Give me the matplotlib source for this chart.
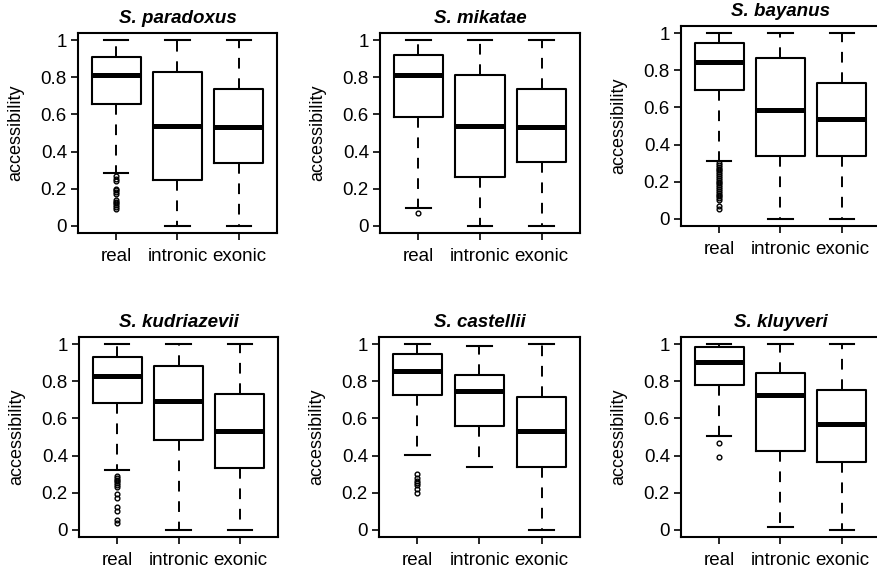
import matplotlib
matplotlib.use('Agg')
import matplotlib.pyplot as plt

plt.rcParams['font.family'] = ['Liberation Sans', 'DejaVu Sans']

groups = ['real', 'intronic', 'exonic']
species = ['S. paradoxus', 'S. mikatae', 'S. bayanus',
           'S. kudriazevii', 'S. castellii', 'S. kluyveri']

# statistics per species (rows) and group (columns: real, intronic, exonic)
whislo = [[0.285, 0.000, 0.000],
          [0.095, 0.000, 0.000],
          [0.312, 0.000, 0.000],
          [0.324, 0.000, 0.000],
          [0.401, 0.339, 0.000],
          [0.505, 0.014, 0.000]]
q1 = [[0.656, 0.247, 0.337],
      [0.586, 0.265, 0.342],
      [0.695, 0.339, 0.339],
      [0.682, 0.486, 0.330],
      [0.729, 0.561, 0.339],
      [0.783, 0.424, 0.366]]
med = [[0.814, 0.539, 0.532],
       [0.814, 0.537, 0.535],
       [0.846, 0.587, 0.539],
       [0.829, 0.693, 0.534],
       [0.856, 0.747, 0.531],
       [0.906, 0.726, 0.570]]
q3 = [[0.910, 0.829, 0.735],
      [0.919, 0.814, 0.735],
      [0.946, 0.869, 0.731],
      [0.933, 0.883, 0.731],
      [0.949, 0.834, 0.717],
      [0.987, 0.843, 0.753]]
whishi = [[1.000, 1.000, 1.000],
          [1.000, 1.000, 1.000],
          [1.000, 1.000, 1.000],
          [1.000, 1.000, 1.000],
          [1.000, 0.993, 1.000],
          [1.000, 1.000, 1.000]]
# outliers of the "real" group
real_outliers = [
    [0.27, 0.25, 0.24, 0.20, 0.19, 0.18, 0.17, 0.14, 0.13, 0.12, 0.11, 0.10, 0.09],
    [0.067],
    [0.30, 0.29, 0.28, 0.27, 0.26, 0.25, 0.24, 0.23, 0.22, 0.21, 0.20, 0.19,
     0.18, 0.17, 0.16, 0.15, 0.14, 0.13, 0.12, 0.11, 0.10, 0.07, 0.05],
    [0.29, 0.28, 0.27, 0.26, 0.25, 0.24, 0.23, 0.19, 0.17, 0.12, 0.10, 0.05, 0.035],
    [0.30, 0.28, 0.26, 0.25, 0.24, 0.22, 0.20],
    [0.47, 0.39],
]
yticks = [0, 0.2, 0.4, 0.6, 0.8, 1]
yticklabels = ['0', '0.2', '0.4', '0.6', '0.8', '1']

W, H = 878, 570
fig = plt.figure(figsize=(W / 100, H / 100), dpi=100)
fig.patch.set_facecolor('white')

# panel frames in pixels: left, top, right, bottom
frames = [(78, 33, 277, 233), (380, 33, 580, 233), (681, 26, 880, 226),
          (79, 337, 278, 537), (379, 337, 580, 537), (681, 337, 880, 537)]

for i, sp in enumerate(species):
    l, t, r, b = frames[i]
    ax = fig.add_axes([l / W, 1 - b / H, (r - l) / W, (b - t) / H])
    stats = []
    for j, g in enumerate(groups):
        stats.append(dict(label=g, whislo=whislo[i][j], q1=q1[i][j], med=med[i][j],
                          q3=q3[i][j], whishi=whishi[i][j],
                          fliers=real_outliers[i] if j == 0 else []))
    ax.bxp(stats, positions=[1, 2, 3], widths=0.8, capwidths=0.4,
           boxprops=dict(color='black', lw=1.5),
           medianprops=dict(color='black', lw=3.6, solid_capstyle='butt'),
           whiskerprops=dict(color='black', lw=1.4, linestyle=(0, (5.5, 5.0))),
           capprops=dict(color='black', lw=1.5),
           flierprops=dict(marker='o', markersize=3.4, markerfacecolor='none',
                           markeredgecolor='black', markeredgewidth=1.0,
                           linestyle='none'))
    ax.set_xlim(0.38, 3.62)
    ax.set_ylim(-0.04, 1.04)
    ax.set_yticks(yticks)
    ax.set_yticklabels(yticklabels)
    ax.set_xticks([1, 2, 3])
    ax.set_xticklabels(groups)
    for s in ax.spines.values():
        s.set_linewidth(1.5)
        s.set_color('black')
    ax.tick_params(axis='y', length=5, width=1.2, pad=3, labelsize=13.5, colors='black')
    ax.tick_params(axis='x', length=5, width=1.2, pad=6, labelsize=13.5, colors='black')
    ax.set_ylabel('accessibility', fontsize=13)
    ax.yaxis.set_label_coords(-54 / (r - l), 0.5)
    ax.set_title(sp, fontsize=13.5, fontweight='bold', fontstyle='italic', pad=7)

fig.savefig('out.png', dpi=100, facecolor='white')
